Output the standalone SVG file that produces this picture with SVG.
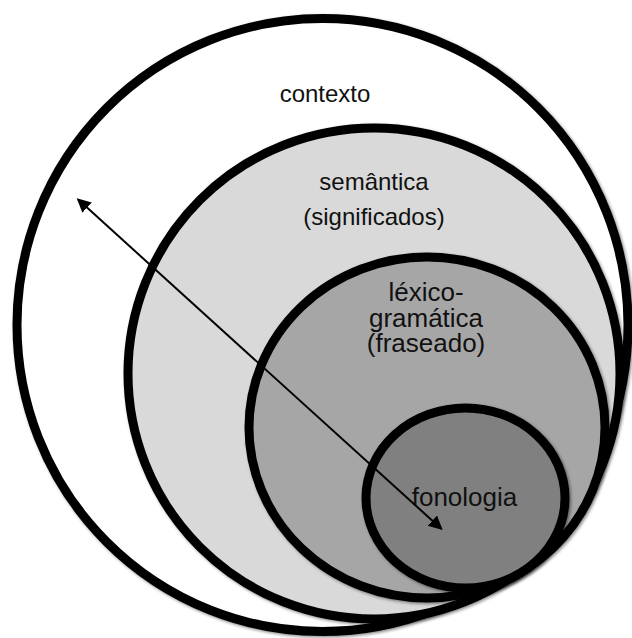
<svg xmlns="http://www.w3.org/2000/svg" width="632" height="638" viewBox="0 0 632 638">
  <style>
    .ring { stroke: #000; stroke-width: 9; filter: url(#shadow); }
    .label { font-family: "Liberation Sans", Arial, sans-serif; fill: #111; text-anchor: middle; }
    .conn { stroke: #000; stroke-width: 2; fill: none; }
  </style>
  <defs>
    <filter id="shadow" x="-10%" y="-10%" width="120%" height="120%">
      <feDropShadow dx="1.5" dy="1.5" stdDeviation="1.5" flood-color="#000" flood-opacity="0.45"/>
    </filter>
    <marker id="head" markerUnits="userSpaceOnUse" markerWidth="16" markerHeight="16"
            refX="12" refY="7" orient="auto-start-reverse">
      <path d="M0,0 L14,7 L0,14 z" fill="#000"/>
    </marker>
  </defs>

  <rect width="632" height="638" fill="#fff"/>

  <!-- outermost layer -->
  <g id="contexto">
    <ellipse class="ring" cx="322.5" cy="325" rx="305.5" ry="306.5" fill="#fff"/>
    <text class="label" x="325" y="102" font-size="24">contexto</text>
  </g>

  <!-- meaning layer -->
  <g id="semantica">
    <ellipse class="ring" cx="374" cy="373.5" rx="246" ry="245.5" fill="#d9d9d9"/>
    <text class="label" x="374" y="190" font-size="24">semântica</text>
    <text class="label" x="374" y="225" font-size="24">(significados)</text>
  </g>

  <!-- wording layer -->
  <g id="lexicogramatica">
    <ellipse class="ring" cx="427" cy="427.5" rx="178" ry="170.5" fill="#a6a6a6"/>
    <text class="label" x="426" y="301" font-size="26">léxico-</text>
    <text class="label" x="426" y="327" font-size="26">gramática</text>
    <text class="label" x="426" y="352" font-size="26">(fraseado)</text>
  </g>

  <!-- sound layer -->
  <g id="fonologia">
    <ellipse class="ring" cx="465.5" cy="498" rx="99.5" ry="90" fill="#808080"/>
    <text class="label" x="464.5" y="506" font-size="26">fonologia</text>
  </g>

  <!-- double-headed arrow across the layers -->
  <g id="connectors">
    <line class="conn" x1="78.2" y1="199.6" x2="441.2" y2="528.7"
          marker-start="url(#head)" marker-end="url(#head)"/>
  </g>
</svg>
